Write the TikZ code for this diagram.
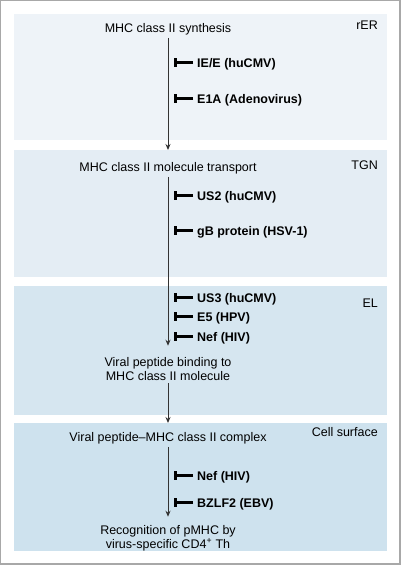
\documentclass[tikz,border=0pt]{standalone}
\usepackage{fontspec}
\setmainfont{Liberation Sans}
\usetikzlibrary{arrows.meta}
\definecolor{rercol}{HTML}{EEF3F8}
\definecolor{tgncol}{HTML}{E4EDF4}
\definecolor{elcol}{HTML}{D6E6F0}
\definecolor{surfcol}{HTML}{CEE2EE}
\definecolor{framecol}{HTML}{A8A8A8}
\begin{document}
\begin{tikzpicture}[x=1pt,y=-1pt,
  font=\fontsize{12.5}{14}\selectfont,
  panel/.style={anchor=north west,minimum width=373pt,inner sep=0pt,outer sep=0pt},
  stage/.style={anchor=base,align=center,inner sep=3pt},
  place/.style={anchor=base east,inner sep=0pt},
  virus/.style={anchor=base west,inner sep=0pt,font=\fontsize{12.5}{14}\selectfont\bfseries},
  inhib/.style={draw=black,line width=2.2pt,-{Rectangle[length=3.2pt,width=8.5pt]}},
  flow/.style={draw=black!80,line width=0.9pt,-{Stealth[length=6pt,width=5pt]}}]
  \useasboundingbox (0,0) rectangle (401,565);
  \draw[framecol,line width=1.2pt] (0.8,0.8) rectangle (400,564);
  % compartments
  \node[panel,fill=rercol,minimum height=126pt] (rer) at (14,14) {};
  \node[panel,fill=tgncol,minimum height=127pt] (tgn) at (14,150) {};
  \node[panel,fill=elcol,minimum height=129pt] (el) at (14,286) {};
  \node[panel,fill=surfcol,minimum height=128pt] (surf) at (14,423) {};
  \node[place] (rerlbl) at (378,29.5) {rER};
  \node[place] (tgnlbl) at (378,169) {TGN};
  \node[place] (ellbl) at (378,307) {EL};
  \node[place] (surflbl) at (378,436) {Cell surface};
  % pathway
  \node[stage] (syn) at (168,32) {MHC class II synthesis};
  \node[stage] (trans) at (168,171) {MHC class II molecule transport};
  \node[stage] (bind) at (168,380) {Viral peptide binding to\\MHC class II molecule};
  \node[stage] (cplx) at (168,441) {Viral peptide--MHC class II complex};
  \node[stage] (recog) at (168,548) {Recognition of pMHC by\\virus-specific CD4\textsuperscript{+} Th};
  \draw[flow] (syn.south) -- (syn.south |- tgn.north);
  \draw[flow,shorten >=8pt] (trans.south) -- (trans.south |- bind.north);
  \draw[flow] (bind.south) -- (bind.south |- surf.north);
  \draw[flow,shorten >=5pt] (cplx.south) -- (cplx.south |- recog.north);
  % viral inhibitors
  \node[virus] (iee) at (197,67) {IE/E (huCMV)};
  \node[virus] (eia) at (197,103) {E1A (Adenovirus)};
  \node[virus] (us2) at (197,200) {US2 (huCMV)};
  \node[virus] (gb) at (197,235) {gB protein (HSV-1)};
  \node[virus] (us3) at (197,302) {US3 (huCMV)};
  \node[virus] (e5) at (197,321) {E5 (HPV)};
  \node[virus] (nefa) at (197,341) {Nef (HIV)};
  \node[virus] (nefb) at (197,480) {Nef (HIV)};
  \node[virus] (bzlf) at (197,507) {BZLF2 (EBV)};
  \foreach \v in {iee,eia,us2,gb,us3,e5,nefa,nefb,bzlf}
    \draw[inhib] ([xshift=-4pt,yshift=4.5pt]\v.base west) -- ++(-19,0);
\end{tikzpicture}
\end{document}
